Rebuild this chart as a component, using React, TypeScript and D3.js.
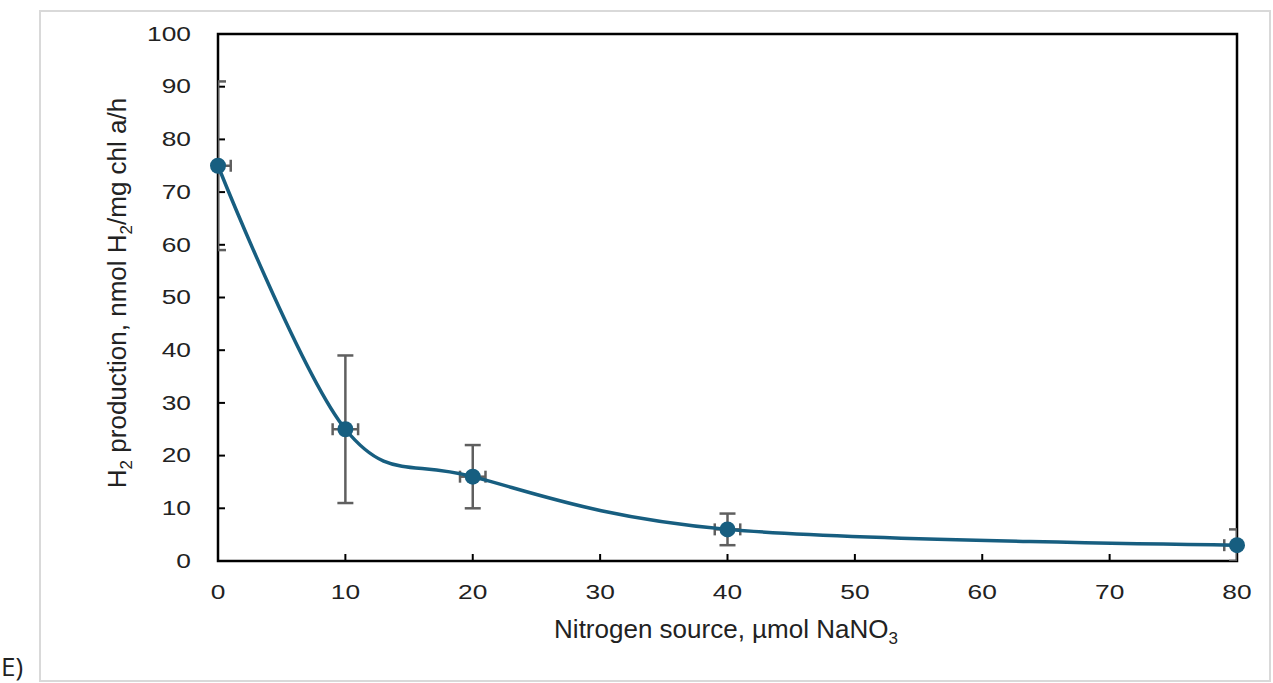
import React, { useRef, useEffect } from "react";
import * as d3 from "d3";

// values
const nitrate = [0, 10, 20, 40, 80];
const h2Rate = [75, 25, 16, 6, 3];
const h2Err = [16, 14, 6, 3, 3];
const nitrateErr = [1, 1, 1, 1, 1];
const xTicks = [0, 10, 20, 30, 40, 50, 60, 70, 80];
const yTicks = [0, 10, 20, 30, 40, 50, 60, 70, 80, 90, 100];

const W = 1273;
const H = 683;
const left = 218;
const right = 1237;
const top = 34;
const bottom = 561;
const blue = "#175e80";
const grey = "#5f5f5f";
const stretch = 1.35;

const App = () => {
  const svgRef = useRef<SVGSVGElement>(null);

  useEffect(() => {
    const svg = d3.select(svgRef.current);
    svg.selectAll("*").remove();

    const x = d3.scaleLinear().domain([0, 80]).range([left, right]);
    const y = d3.scaleLinear().domain([0, 100]).range([bottom, top]);

    svg
      .append("defs")
      .append("clipPath")
      .attr("id", "plot")
      .append("rect")
      .attr("x", left)
      .attr("y", top)
      .attr("width", right - left)
      .attr("height", bottom - top);

    // outer grey box
    svg
      .append("rect")
      .attr("x", 40)
      .attr("y", 11)
      .attr("width", 1230)
      .attr("height", 670)
      .attr("fill", "none")
      .attr("stroke", "#d9d9d9")
      .attr("stroke-width", 2);

    // tick labels
    const font = "'Liberation Sans', Arial, sans-serif";
    yTicks.forEach((t) => {
      svg
        .append("text")
        .attr("transform", `translate(191,${y(t)}) scale(${stretch},1)`)
        .attr("text-anchor", "end")
        .attr("dominant-baseline", "central")
        .attr("font-family", font)
        .attr("font-size", 19.5)
        .attr("fill", "#222")
        .text(t);
    });
    xTicks.forEach((t) => {
      svg
        .append("text")
        .attr("transform", `translate(${x(t)},592) scale(${stretch},1)`)
        .attr("text-anchor", "middle")
        .attr("dominant-baseline", "central")
        .attr("font-family", font)
        .attr("font-size", 19.5)
        .attr("fill", "#222")
        .text(t);
    });

    // inward ticks
    svg
      .append("g")
      .selectAll("line")
      .data(yTicks.slice(1, -1))
      .join("line")
      .attr("x1", left)
      .attr("x2", left + 7)
      .attr("y1", (d) => y(d))
      .attr("y2", (d) => y(d))
      .attr("stroke", "#000")
      .attr("stroke-width", 2);
    svg
      .append("g")
      .selectAll("line")
      .data(xTicks.slice(1, -1))
      .join("line")
      .attr("x1", (d) => x(d))
      .attr("x2", (d) => x(d))
      .attr("y1", bottom)
      .attr("y2", bottom - 7)
      .attr("stroke", "#000")
      .attr("stroke-width", 2);

    // frame
    svg
      .append("rect")
      .attr("x", left)
      .attr("y", top)
      .attr("width", right - left)
      .attr("height", bottom - top)
      .attr("fill", "none")
      .attr("stroke", "#000")
      .attr("stroke-width", 2.5);

    const pts = nitrate.map((n, i) => ({ n, v: h2Rate[i], e: h2Err[i], xe: nitrateErr[i] }));

    // error bars, clipped to plot area
    const eb = svg.append("g").attr("clip-path", "url(#plot)").attr("stroke", grey).attr("stroke-width", 2.5);
    pts.forEach((p) => {
      const cx = x(p.n);
      const cy = y(p.v);
      const lo = y(Math.max(0, p.v - p.e));
      const hi = y(p.v + p.e);
      eb.append("line").attr("x1", cx).attr("x2", cx).attr("y1", lo).attr("y2", hi);
      eb.append("line").attr("x1", cx - 8).attr("x2", cx + 8).attr("y1", lo).attr("y2", lo);
      eb.append("line").attr("x1", cx - 8).attr("x2", cx + 8).attr("y1", hi).attr("y2", hi);
      const xl = x(p.n - p.xe);
      const xr = x(p.n + p.xe);
      eb.append("line").attr("x1", xl).attr("x2", xr).attr("y1", cy).attr("y2", cy);
      eb.append("line").attr("x1", xl).attr("x2", xl).attr("y1", cy - 6).attr("y2", cy + 6);
      eb.append("line").attr("x1", xr).attr("x2", xr).attr("y1", cy - 6).attr("y2", cy + 6);
    });

    // smoothed line
    const smooth = d3
      .line<{ n: number; v: number }>()
      .x((d) => x(d.n))
      .y((d) => y(d.v))
      .curve(d3.curveCardinal.tension(0));
    svg
      .append("path")
      .datum(pts)
      .attr("d", smooth)
      .attr("fill", "none")
      .attr("stroke", blue)
      .attr("stroke-width", 3.5);

    svg
      .append("g")
      .selectAll("circle")
      .data(pts)
      .join("circle")
      .attr("cx", (d) => x(d.n))
      .attr("cy", (d) => y(d.v))
      .attr("r", 8)
      .attr("fill", blue);

    // axis titles
    const xt = svg
      .append("text")
      .attr("x", 726)
      .attr("y", 638)
      .attr("text-anchor", "middle")
      .attr("font-family", font)
      .attr("font-size", 26)
      .attr("fill", "#222");
    xt.append("tspan").text("Nitrogen source, µmol NaNO");
    xt.append("tspan").attr("font-size", 17).attr("dy", 6).text("3");

    const yt = svg
      .append("text")
      .attr("transform", "translate(126,293) rotate(-90)")
      .attr("text-anchor", "middle")
      .attr("font-family", font)
      .attr("font-size", 26)
      .attr("fill", "#222");
    yt.append("tspan").text("H");
    yt.append("tspan").attr("font-size", 17).attr("dy", 6).text("2");
    yt.append("tspan").attr("dy", -6).text(" production, nmol H");
    yt.append("tspan").attr("font-size", 17).attr("dy", 6).text("2");
    yt.append("tspan").attr("dy", -6).text("/mg chl a/h");

    svg
      .append("text")
      .attr("x", 1)
      .attr("y", 676)
      .attr("font-family", "'Open Sans', sans-serif")
      .attr("font-size", 26)
      .attr("fill", "#222")
      .text("E)");
  }, []);

  return (
    <svg
      ref={svgRef}
      width={W}
      height={H}
      style={{ position: "absolute", left: 0, top: 0, background: "#fff" }}
    />
  );
};

export default App;
